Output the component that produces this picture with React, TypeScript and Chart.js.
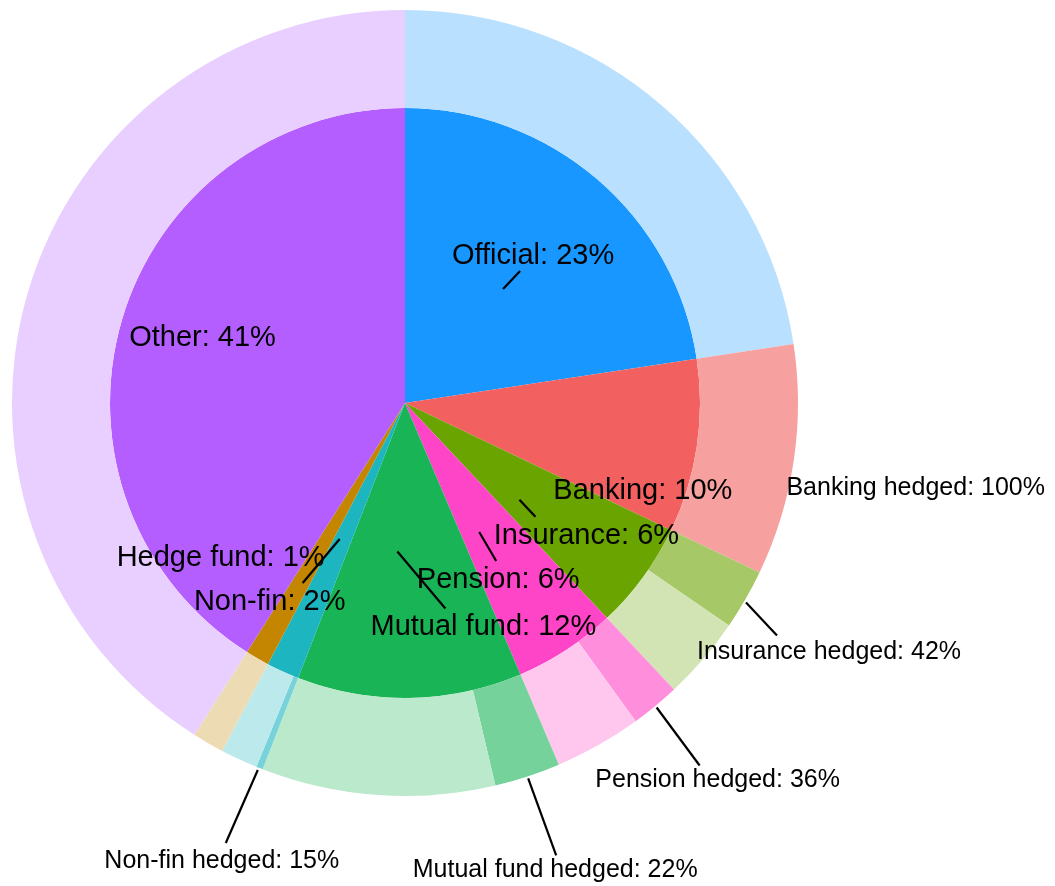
import React, { useEffect, useRef } from "react";
import { Chart, registerables } from "chart.js";

Chart.register(...registerables);

// ---- Data ----
const categories = ["Official", "Banking", "Insurance", "Pension", "Mutual fund", "Non-fin", "Hedge fund", "Other"];
const shares = [22.6, 9.5, 5.9, 5.6, 12.3, 1.8, 1.3, 41.0];
const hedgedPct = [0, 100, 42, 36, 22, 15, 0, 0];
const baseColors = ["#1797FF", "#F26060", "#6AA400", "#FF45C7", "#18B456", "#1CB5C0", "#C48600", "#B45EFF"];

// ---- Label layout (offsets in px relative to each slice's anchor point) ----
type LabelLayout = { dx: number; dy: number; line?: [number, number, number, number] };
const innerLayout: LabelLayout[] = [
  { dx: 30, dy: -25, line: [0, 0, 17, -18] },
  { dx: 89, dy: 74 },
  { dx: 60, dy: 52, line: [-7, 8, 9, 25] },
  { dx: 11, dy: 59, line: [-8, 3, 9, 32] },
  { dx: 76, dy: 82, line: [-10, -2, 38, 55] },
  { dx: -73, dy: 70, line: [-3, -1, -40, 43] },
  { dx: -109, dy: 33 },
  { dx: -58, dy: -15 },
];
const outerLayout: (LabelLayout | null)[] = [
  null,
  { dx: 120, dy: 34 },
  { dx: 82, dy: 58, line: [-1, 2, 30, 35] },
  { dx: 61, dy: 80, line: [0, 0, 43, 58] },
  { dx: 27, dy: 99, line: [0, 0, 28, 77] },
  { dx: -37, dy: 98, line: [-1, 0, -33, 73] },
  null,
  null,
];

function tint(hex: string, a: number): string {
  const n = parseInt(hex.slice(1), 16);
  const r = (n >> 16) & 255, g = (n >> 8) & 255, b = n & 255;
  const m = (c: number) => Math.round(255 - a * (255 - c));
  return `rgb(${m(r)},${m(g)},${m(b)})`;
}

const total = shares.reduce((s, v) => s + v, 0);

const outerValues: number[] = [];
const outerColors: string[] = [];
const hedgedArcIndex: number[] = [];
categories.forEach((_, i) => {
  const h = hedgedPct[i] / 100;
  if (h > 0) {
    hedgedArcIndex[i] = outerValues.length;
    outerValues.push(shares[i] * h);
    outerColors.push(tint(baseColors[i], 0.6));
  } else {
    hedgedArcIndex[i] = -1;
  }
  if (h < 1) {
    outerValues.push(shares[i] * (1 - h));
    outerColors.push(tint(baseColors[i], 0.3));
  }
});

const FONT = "'Liberation Sans', Arial, Helvetica, sans-serif";

const labelPlugin = {
  id: "pieLabels",
  afterDraw(chart: any) {
    const ctx = chart.ctx as CanvasRenderingContext2D;
    const innerMeta = chart.getDatasetMeta(1);
    const outerMeta = chart.getDatasetMeta(0);
    ctx.save();
    ctx.fillStyle = "#000";
    ctx.strokeStyle = "#000";
    ctx.lineWidth = 2.2;
    ctx.textAlign = "center";
    ctx.textBaseline = "alphabetic";

    const draw = (arc: any, rFrac: number, rAdd: number, lay: LabelLayout, text: string, size: number) => {
      const p = arc.getProps(["x", "y", "startAngle", "endAngle", "outerRadius"], true);
      const mid = (p.startAngle + p.endAngle) / 2;
      const r = p.outerRadius * rFrac + rAdd;
      const ax = p.x + r * Math.cos(mid);
      const ay = p.y + r * Math.sin(mid);
      ctx.font = `${size}px ${FONT}`;
      ctx.fillText(text, ax + lay.dx, ay + lay.dy);
      if (lay.line) {
        const [sx, sy, ex, ey] = lay.line;
        ctx.beginPath();
        ctx.moveTo(ax + sx, ay + sy);
        ctx.lineTo(ax + ex, ay + ey);
        ctx.stroke();
      }
    };

    categories.forEach((c, i) => {
      const pct = Math.round((shares[i] / total) * 100);
      draw(innerMeta.data[i], 0.51, 0, innerLayout[i], `${c}: ${pct}%`, 29);
    });
    categories.forEach((c, i) => {
      const lay = outerLayout[i];
      if (!lay || hedgedArcIndex[i] < 0) return;
      draw(outerMeta.data[hedgedArcIndex[i]], 1, 2, lay, `${c} hedged: ${hedgedPct[i]}%`, 25);
    });
    ctx.restore();
  },
};

export default function App() {
  const ref = useRef<HTMLCanvasElement | null>(null);
  useEffect(() => {
    document.body.style.margin = "0";
    if (!ref.current) return;
    const chart = new Chart(ref.current, {
      type: "doughnut",
      data: {
        labels: categories,
        datasets: [
          {
            label: "Hedged split",
            data: outerValues,
            backgroundColor: outerColors,
            borderWidth: 0,
            hoverOffset: 0,
            offset: 0,
            weight: 98,
          } as any,
          {
            label: "Share",
            data: shares,
            backgroundColor: baseColors,
            borderWidth: 0,
            hoverOffset: 0,
            offset: 0,
            weight: 295,
          } as any,
        ],
      },
      options: {
        responsive: false,
        animation: false,
        cutout: 0,
        events: [],
        layout: { padding: { left: 4, top: 2, right: 249, bottom: 90 } },
        plugins: {
          legend: { display: false },
          tooltip: { enabled: false },
        },
      } as any,
      plugins: [labelPlugin],
    });
    return () => chart.destroy();
  }, []);
  return (
    <div style={{ padding: 8, width: 1039, height: 870, overflow: "hidden" }}>
      <canvas ref={ref} width={1039} height={878} style={{ display: "block" }} />
    </div>
  );
}
